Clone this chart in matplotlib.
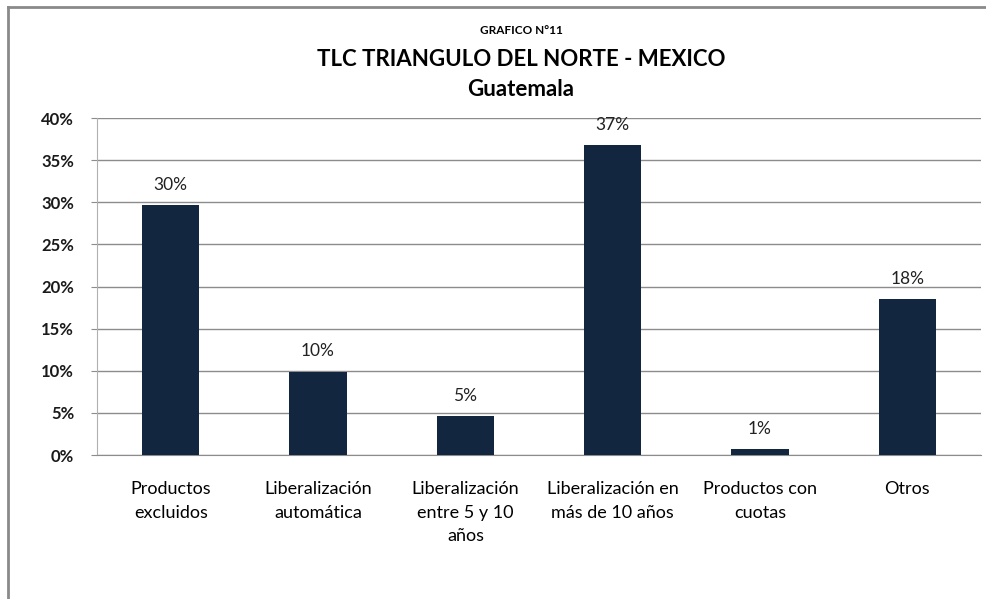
import matplotlib.pyplot as plt
from matplotlib.lines import Line2D
from matplotlib.ticker import PercentFormatter

categories = ["Productos\nexcluidos", "Liberalización\nautomática",
              "Liberalización\nentre 5 y 10\naños", "Liberalización en\nmás de 10 años",
              "Productos con\ncuotas", "Otros"]
values = [0.297, 0.099, 0.046, 0.368, 0.007, 0.185]
labels = ["30%", "10%", "5%", "37%", "1%", "18%"]
yticks = [0, 0.05, 0.10, 0.15, 0.20, 0.25, 0.30, 0.35, 0.40]

plt.rcParams['font.family'] = ['Lato', 'DejaVu Sans']

fig = plt.figure(figsize=(9.86, 5.99), dpi=100)
ax = fig.add_axes([0.0984, 0.2404, 0.8966, 0.5626])

x = range(len(categories))
ax.bar(x, values, width=0.39, color='#13263f', zorder=3)
for xi, v, lab in zip(x, values, labels):
    ax.annotate(lab, (xi, v), xytext=(0, 14.5), textcoords='offset points',
                ha='center', va='center', fontsize=12.5, color='#222222')

ax.set_xlim(-0.5, 5.5)
ax.set_ylim(0, 0.40)
ax.set_yticks(yticks)
ax.yaxis.set_major_formatter(PercentFormatter(1.0, decimals=0))
ax.grid(axis='y', color='#8c8c8c', linewidth=1.0, zorder=0)
ax.set_xticks(list(x))
ax.set_xticklabels(categories, fontsize=13, linespacing=1.55, va='top')
ax.tick_params(axis='x', length=0, pad=19)
ax.tick_params(axis='y', length=4.5, color='#8c8c8c', pad=12, labelsize=12)
for lab in ax.get_yticklabels():
    lab.set_fontweight('bold')
    lab.set_color('#1a1a1a')

ax.spines['top'].set_visible(False)
ax.spines['right'].set_visible(False)
ax.spines['left'].set_color('#b0b0b0')
ax.spines['bottom'].set_color('#8c8c8c')

tx = 521 / 986
fig.text(tx, 1 - 31 / 599, "GRAFICO N°11", ha='center', va='center',
         fontsize=8.5, fontweight='bold')
fig.text(tx, 1 - 60 / 599, "TLC TRIANGULO DEL NORTE - MEXICO", ha='center',
         va='center', fontsize=16, fontweight='bold')
fig.text(tx, 1 - 89 / 599, "Guatemala", ha='center', va='center',
         fontsize=16, fontweight='bold')

# outer chart frame (only left and top edges visible in the crop)
fig.add_artist(Line2D([8 / 986, 8 / 986], [0, 1 - 7 / 599],
                      transform=fig.transFigure, color='#8a8a8a', linewidth=2))
fig.add_artist(Line2D([8 / 986, 1], [1 - 7 / 599, 1 - 7 / 599],
                      transform=fig.transFigure, color='#8a8a8a', linewidth=2))

fig.savefig("out.png", dpi=100)
